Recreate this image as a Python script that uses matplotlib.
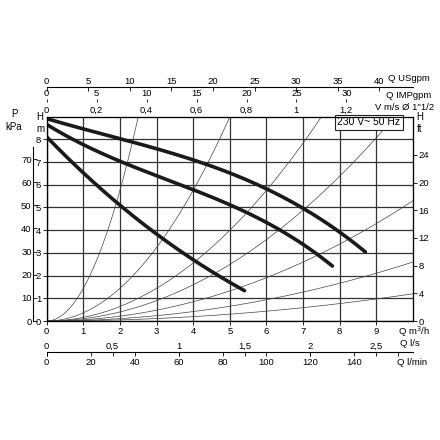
import matplotlib
matplotlib.use("Agg")
import matplotlib.pyplot as plt
import numpy as np

plt.rcParams['font.family'] = ['Liberation Sans', 'DejaVu Sans']
plt.rcParams['font.size'] = 6.8

# pump curves (Q m3/h, H m)
q1 = [0, 1, 2, 3, 4, 5, 6, 7, 8, 8.7]
h1 = [8.9, 8.5, 8.0, 7.6, 7.1, 6.5, 5.85, 4.9, 4.0, 3.0]
q2 = [0, 1, 2, 3, 4, 5, 6, 7, 7.8]
h2 = [8.75, 7.6, 7.0, 6.5, 5.9, 5.1, 4.2, 3.4, 2.45]
q3 = [0, 1, 2, 3, 4, 5, 5.4]
h3 = [8.1, 6.55, 5.1, 3.8, 2.7, 1.75, 1.3]
# system curves H = k*Q^2
ks = [1.44, 0.36, 0.16, 0.0997, 0.053, 0.026, 0.012]

fig = plt.figure(figsize=(4.4, 4.4), dpi=100)
L, W = 46.7/440, (413-46.7)/440
B, H = (440-321)/440, (321-116.7)/440
ax = fig.add_axes([L, B, W, H])
ax.set_xlim(0, 10); ax.set_ylim(0, 9)
ax.set_xticks(range(0, 10)); ax.set_yticks(range(0, 9))
ax.grid(True, color='#333', lw=0.9)
for s in ax.spines.values():
    s.set_linewidth(0.8)
qq = np.linspace(0, 10, 300)
for k in ks:
    ax.plot(qq, k*qq**2, color='#444', lw=0.5)
for q, h in [(q1, h1), (q2, h2), (q3, h3)]:
    c = np.polyfit(q, h, 3)
    xs = np.linspace(q[0], q[-1], 200)
    ax.plot(xs, np.polyval(c, xs), color='#1a1a1a', lw=2.6, solid_capstyle='round')
ax.tick_params(length=3, width=0.6, pad=1)
ax.text(9.65, 8.75, '230 V~ 50 Hz', ha='right', va='center', fontsize=7.5,
        bbox=dict(boxstyle='square,pad=0.25', fc='white', ec='#222', lw=0.8))
axv = ax.twiny()
f = 0.147
axv.set_xlim(0, 10*f)
axv.set_xticks([0, 0.2, 0.4, 0.6, 0.8, 1.0, 1.2])
axv.set_xticklabels(['0', '0,2', '0,4', '0,6', '0,8', '1', '1,2'])
axv.tick_params(length=0, pad=1)
axf = ax.twinx()
axf.set_ylim(0, 9/0.3048)
axf.set_yticks([0, 4, 8, 12, 16, 20, 24])
axf.tick_params(length=3, width=0.6, pad=1)

def haxis(ypix, factor, ticks, labels, side):
    a = fig.add_axes([L, (440-ypix)/440, W, 0.0001])
    a.set_xlim(0, 10*factor)
    a.set_yticks([])
    for s in ['left', 'right', 'top', 'bottom']:
        a.spines[s].set_visible(False)
    a.patch.set_alpha(0)
    a.spines[side].set_visible(True)
    a.spines[side].set_linewidth(0.8)
    a.set_xticks(ticks); a.set_xticklabels(labels)
    if side == 'top':
        a.xaxis.tick_top()
    a.tick_params(length=3, width=0.6, pad=1, direction='in' if side == 'top' else 'out')
    return a

haxis(87, 4.403, range(0, 45, 5), [str(v) for v in range(0, 45, 5)], 'top')
a2 = haxis(99, 3.666, range(0, 35, 5), [str(v) for v in range(0, 35, 5)], 'top')
a2.spines['top'].set_visible(False)
a2.tick_params(length=2)
a3 = haxis(352, 1/3.6, [0, 0.5, 1, 1.5, 2, 2.5], ['0', '0,5', '1', '1,5', '2', '2,5'], 'top')
a4 = haxis(352, 16.667, range(0, 161, 20), [str(v) if v < 160 else '' for v in range(0, 161, 20)], 'bottom')
a4.spines['bottom'].set_visible(False)

axp = fig.add_axes([33/440, B, 0.0001, H])
axp.set_ylim(0, 9*9.81)
axp.set_yticks(range(0, 80, 10))
axp.set_xticks([])
for s in ['right', 'top', 'bottom']:
    axp.spines[s].set_visible(False)
axp.spines['left'].set_linewidth(0.8)
axp.spines['left'].set_bounds(0, 75)
axp.tick_params(length=3, width=0.6, pad=1, direction='in')

fs = 6.8
fig.text(14/440, 1-117/440, 'P', ha='center', fontsize=7)
fig.text(14/440, 1-130/440, 'kPa', ha='center', fontsize=7)
fig.text(40/440, 1-120/440, 'H', ha='center', fontsize=7)
fig.text(40/440, 1-132/440, 'm', ha='center', fontsize=7)
fig.text(420/440, 1-120/440, 'H', ha='center', fontsize=7)
fig.text(420/440, 1-132/440, 'ft', ha='center', fontsize=7)
fig.text(388/440, 1-81/440, 'Q USgpm', ha='left', fontsize=fs)
fig.text(386/440, 1-98/440, 'Q IMPgpm', ha='left', fontsize=fs)
fig.text(375/440, 1-110/440, 'V m/s Ø 1"1/2', ha='left', fontsize=fs)
fig.text(398/440, 1-335/440, 'Q m$^3$/h', ha='left', fontsize=fs)
fig.text(400/440, 1-346/440, 'Q l/s', ha='left', fontsize=fs)
fig.text(397/440, 1-365/440, 'Q l/min', ha='left', fontsize=fs)

fig.savefig('out.png', dpi=100)
